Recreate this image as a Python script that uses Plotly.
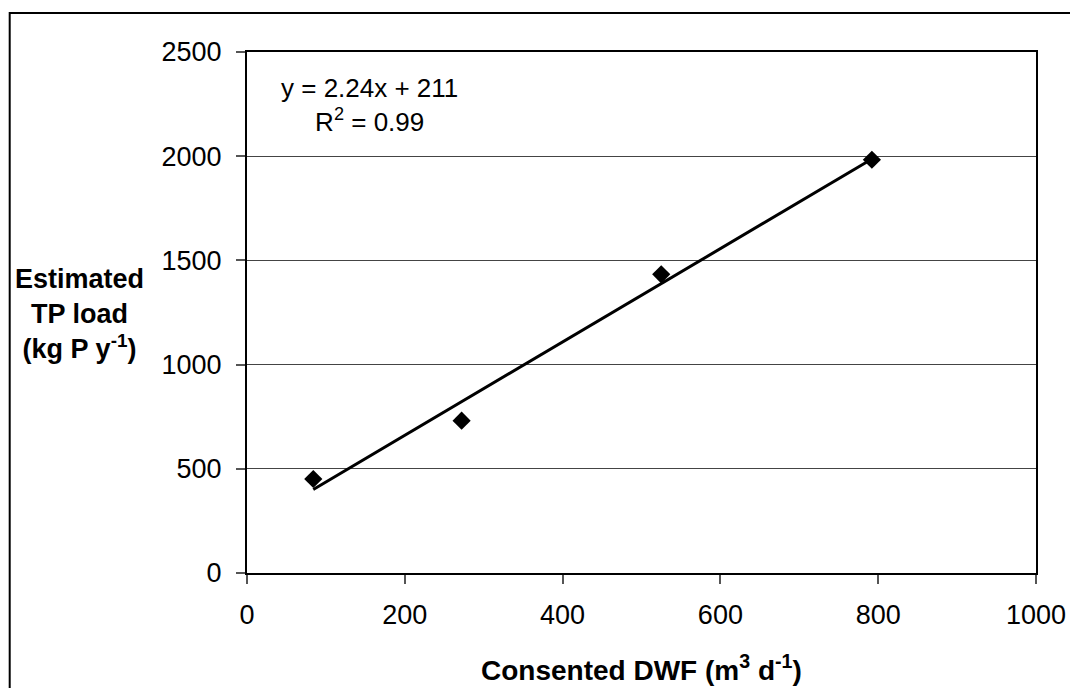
import numpy as np
import plotly.graph_objects as go

# Data
dwf = [84, 272, 525, 792]          # Consented DWF (m3 d-1)
tp_load = [451, 731, 1433, 1983]   # Estimated TP load (kg P y-1)
x_ticks = [0, 200, 400, 600, 800, 1000]
y_ticks = [0, 500, 1000, 1500, 2000, 2500]
equation_text = "y = 2.24x + 211<br>R<sup>2</sup> = 0.99"

slope, intercept = np.polyfit(dwf, tp_load, 1)
trend_x = [min(dwf), max(dwf)]
trend_y = [slope * v + intercept for v in trend_x]

FONT = "Liberation Sans, Arial, sans-serif"

# page layout (screen pixels); the page body adds an 8px offset
OFF = 8
W, H = 1070, 680
L, R, T, B = 247, 1040, 52, 573


def px(xs):
    return (xs - L) / (R - L)


def py(ys):
    return (B - ys) / (B - T)


fig = go.Figure()
fig.add_trace(go.Scatter(
    x=trend_x, y=trend_y, mode="lines",
    line=dict(color="black", width=3), showlegend=False, hoverinfo="skip"))
fig.add_trace(go.Scatter(
    x=dwf, y=tp_load, mode="markers",
    marker=dict(symbol="diamond", size=14, color="black", line=dict(width=0)),
    showlegend=False))

fig.update_layout(
    width=W, height=H,
    margin=dict(l=L - OFF, r=W - (R - OFF), t=T - OFF, b=H - (B - OFF), pad=0),
    paper_bgcolor="white", plot_bgcolor="white",
    font=dict(family=FONT, size=27, color="black"),
    xaxis=dict(range=[0, 1000], tickvals=x_ticks, showgrid=False, zeroline=False,
               showline=True, linecolor="black", linewidth=2, mirror=True,
               ticks="outside", ticklen=9, tickwidth=1.5, tickcolor="#555",
               ticklabelstandoff=8, tickfont=dict(size=27)),
    yaxis=dict(range=[0, 2500], tickvals=y_ticks, showgrid=True,
               gridcolor="#444", gridwidth=1, zeroline=False,
               showline=True, linecolor="black", linewidth=2, mirror=True,
               ticks="outside", ticklen=9, tickwidth=1.5, tickcolor="#555",
               ticklabelstandoff=9, tickfont=dict(size=27)),
    shapes=[dict(type="rect", xref="paper", yref="paper",
                 x0=px(8.5), x1=px(1200), y0=py(900), y1=py(13),
                 line=dict(color="black", width=2), fillcolor="rgba(0,0,0,0)",
                 layer="below")],
    annotations=[
        dict(text=equation_text, xref="x", yref="y", x=155, y=2247,
             showarrow=False, xanchor="center", yanchor="middle",
             font=dict(size=26)),
        dict(text="<b>Estimated<br>TP load<br>(kg P y<sup>-1</sup>)</b>",
             xref="paper", yref="paper", x=px(79), y=py(314),
             showarrow=False, xanchor="center", yanchor="middle",
             font=dict(size=27)),
        dict(text="<b>Consented DWF (m<sup>3</sup> d<sup>-1</sup>)</b>",
             xref="paper", yref="paper", x=px(643), y=py(667.5),
             showarrow=False, xanchor="center", yanchor="middle",
             font=dict(size=28)),
    ],
)

fig.write_html("out.html")
